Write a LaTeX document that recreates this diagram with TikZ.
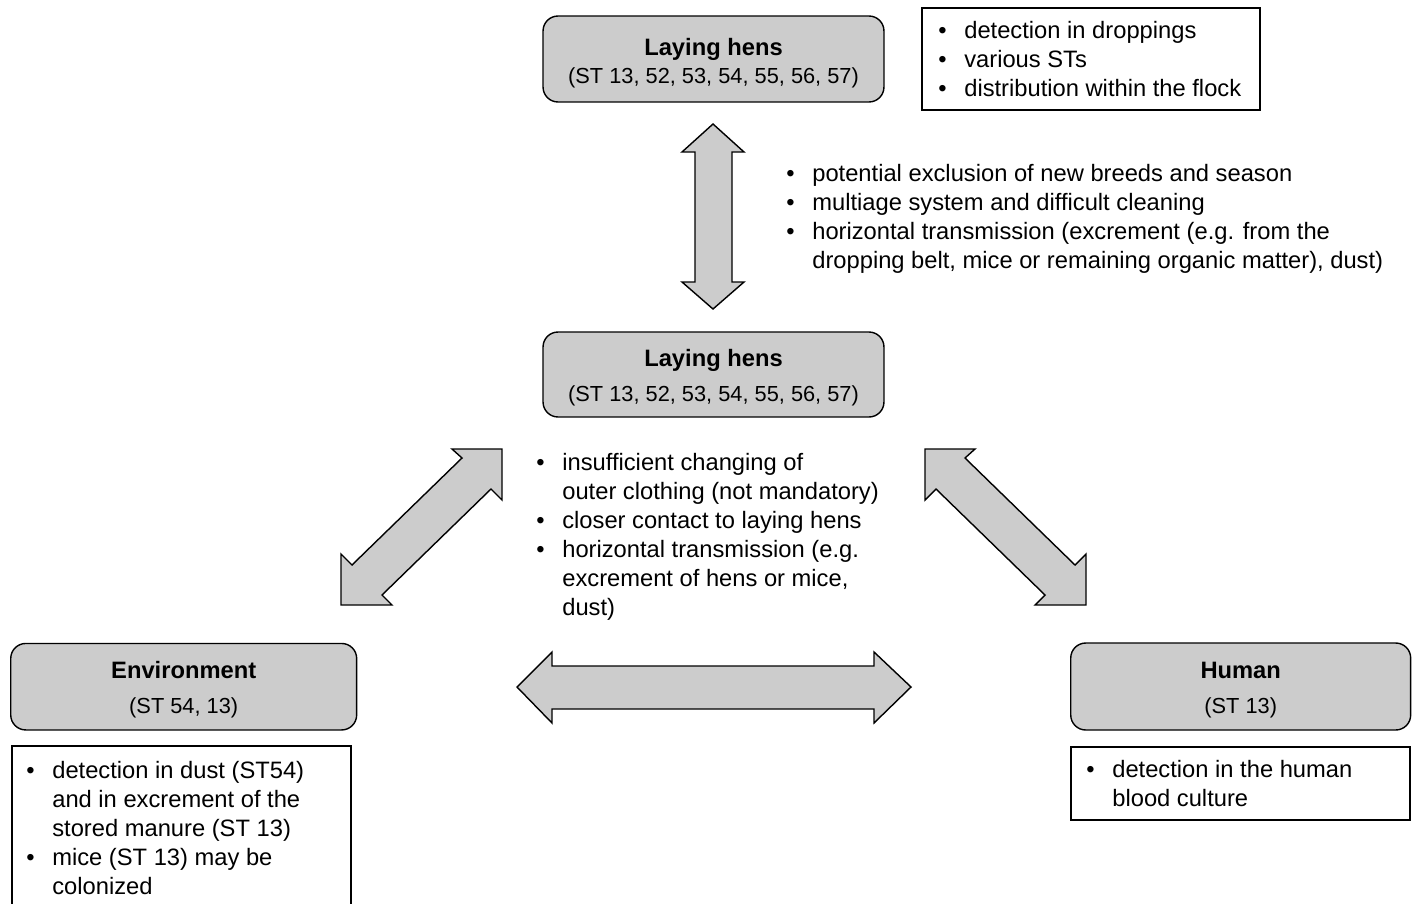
\documentclass[tikz,border=0pt]{standalone}
\usepackage{fontspec}
\setmainfont{Liberation Sans}
\usepackage{xcolor}
\usepackage{tikz}
\usetikzlibrary{positioning}

\definecolor{boxgray}{gray}{0.8}
\newcommand{\bul}{\makebox[0.52cm][l]{\textbullet}}
\newcommand{\contind}{\hspace*{0.52cm}}
\newcommand{\bulletlines}[1]{\begin{tabular}[t]{@{}l@{}}#1\end{tabular}}

\tikzset{
  hostbox/.style={draw=black, fill=boxgray, line width=0.8pt, rounded corners=0.3cm, inner sep=0pt},
  hostname/.style={anchor=base, inner sep=0pt, font=\fontsize{13.5pt}{16.6pt}\selectfont\bfseries},
  hostst/.style={anchor=base, inner sep=0pt, font=\fontsize{12.4pt}{15pt}\selectfont},
  notebox/.style={draw=black, fill=white, line width=0.8pt, inner sep=0pt},
  notetext/.style={anchor=base west, inner sep=0pt},
  blockarrow/.style={draw=black, fill=boxgray, line width=0.8pt, line join=miter}
}

\begin{document}
\begin{tikzpicture}[x=0.02cm, y=-0.02cm, font=\fontsize{13.5pt}{16.6pt}\selectfont]
    \useasboundingbox (0,0) rectangle (1416,903);
    % Hosts
    \node[hostbox, minimum width=6.82cm, minimum height=1.72cm] (hensTop) at (713.5,59) {};
    \node[hostbox, minimum width=6.82cm, minimum height=1.70cm] (hensMid) at (713.5,374.5) {};
    \node[hostbox, minimum width=6.92cm, minimum height=1.73cm] (env) at (183.7,686.7) {};
    \node[hostbox, minimum width=6.80cm, minimum height=1.74cm] (human) at (1240.7,686.5) {};
    \node[hostname] (hensTopName) at (713.5,55.5) {Laying hens};
    \node[hostst] (hensTopST) at (713.5,83) {(ST 13, 52, 53, 54, 55, 56, 57)};
    \node[hostname] (hensMidName) at (713.5,366) {Laying hens};
    \node[hostst] (hensMidST) at (713.5,401) {(ST 13, 52, 53, 54, 55, 56, 57)};
    \node[hostname] (envName) at (183.7,678) {Environment};
    \node[hostst] (envST) at (183.7,713) {(ST 54, 13)};
    \node[hostname] (humanName) at (1240.7,678) {Human};
    \node[hostst] (humanST) at (1240.7,713) {(ST 13)};
    % Frames of the findings
    \node[notebox, minimum width=6.76cm, minimum height=2.04cm] (flockInfo) at (1091,59) {};
    \node[notebox, minimum width=6.78cm, minimum height=3.40cm] (envInfo) at (181.5,831) {};
    \node[notebox, minimum width=6.78cm, minimum height=1.46cm] (humanInfo) at (1240.5,783.5) {};
    % Findings
    \node[notetext] (flockNotes) at (938,38) {\bulletlines{%
        \bul detection in droppings\\
        \bul various STs\\
        \bul distribution within the flock}};
    \node[notetext] (envNotes) at (26,778) {\bulletlines{%
        \bul detection in dust (ST54)\\
        \contind and in excrement of the\\
        \contind stored manure (ST 13)\\
        \bul mice (ST 13) may be\\
        \contind colonized}};
    \node[notetext] (humanNotes) at (1086,777) {\bulletlines{%
        \bul detection in the human\\
        \contind blood culture}};
    % Routes of transmission
    \node[notetext] (flockRoutes) at (786,181) {\bulletlines{%
        \bul potential exclusion of new breeds and season\\
        \bul multiage system and difficult cleaning\\
        \bul horizontal transmission (excrement (e.g. from the\\
        \contind dropping belt, mice or remaining organic matter), dust)}};
    \node[notetext] (contactRoutes) at (536,470) {\bulletlines{%
        \bul insufficient changing of\\
        \contind outer clothing (not mandatory)\\
        \bul closer contact to laying hens\\
        \bul horizontal transmission (e.g.\\
        \contind excrement of hens or mice,\\
        \contind dust)}};
    % Arrows
    \draw[blockarrow] (713,124) -- (744,152) -- (732,152) -- (732,282) -- (744,282) -- (713,309)
        -- (682,282) -- (695,282) -- (695,152) -- (682,152) -- cycle;
    \draw[blockarrow] (502,449) -- (502,500) -- (491,489) -- (382,595) -- (392,605) -- (341,605)
        -- (341,554) -- (352,565) -- (462,458) -- (452,449) -- cycle;
    \draw[blockarrow] (925,449) -- (925,500) -- (936,489) -- (1045,595) -- (1035,605) -- (1086,605)
        -- (1086,554) -- (1075,565) -- (965,458) -- (975,449) -- cycle;
    \draw[blockarrow] (517,687) -- (552,652) -- (552,666) -- (874,666) -- (874,652) -- (911,687)
        -- (874,723) -- (874,709) -- (552,709) -- (552,723) -- cycle;
\end{tikzpicture}
\end{document}
